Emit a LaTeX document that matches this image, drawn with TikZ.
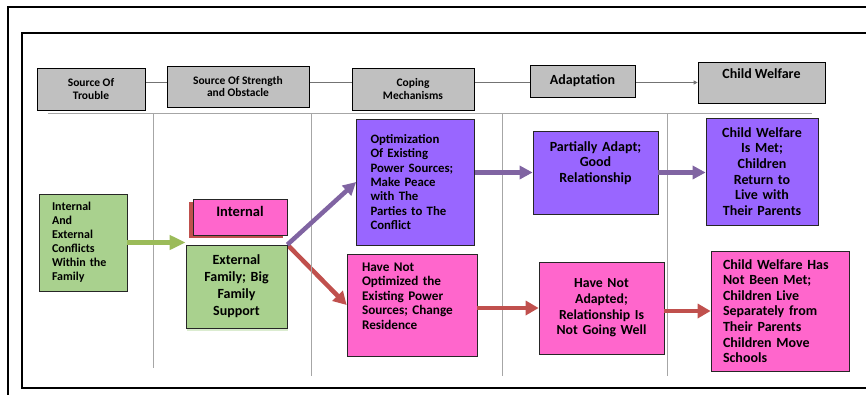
\documentclass[tikz,border=0pt]{standalone}
\usepackage{fontspec}
\setmainfont{Carlito}
\usepackage{xcolor}
\definecolor{cHead}{HTML}{C0C0C0}
\definecolor{cGreen}{HTML}{A9D18E}
\definecolor{cPink}{HTML}{FF66CC}
\definecolor{cPurple}{HTML}{9966FF}
\definecolor{cArrPurple}{HTML}{8064A2}
\definecolor{cArrRed}{HTML}{C0504D}
\definecolor{cArrGreen}{HTML}{9BBB59}
\definecolor{cRule}{HTML}{A6A6A6}
\usepackage{tikz}
\usetikzlibrary{arrows.meta,backgrounds,shadows}
\tikzset{
  node-head/.style={draw=black,fill=cHead,line width=0.7pt,align=center,
    inner sep=0pt,font=\bfseries\fontsize{11.5}{12.5}\selectfont},
  node-box/.style={draw=black!85,line width=0.7pt,inner ysep=0pt,
    font=\bfseries\fontsize{14}{15.6}\selectfont},
  node-green/.style={fill=cGreen},
  node-pink/.style={fill=cPink},
  node-purple/.style={fill=cPurple},
  arrow-purple/.style={-{Triangle[length=13pt,width=13pt]},line width=4.5pt,draw=cArrPurple},
  arrow-red/.style={-{Triangle[length=13pt,width=14pt]},line width=4.5pt,draw=cArrRed},
  arrow-green/.style={-{Triangle[length=16pt,width=14pt]},line width=5pt,draw=cArrGreen},
  head-line/.style={-{Triangle[length=4pt,width=4pt]},line width=1pt,draw=black!55},
  col-rule/.style={line width=1pt,draw=cRule},
}

\begin{document}
\begin{tikzpicture}[x=1pt,y=-1pt]
  \useasboundingbox (0,0) rectangle (866,394);
  \clip (0,0) rectangle (866,394);
  % frames
  \draw[line width=1.3pt] (8,7) rectangle (880,410);
  \draw[line width=1.3pt] (22,33) rectangle (880,388);

  % header row
  \node[node-head,minimum width=108pt,minimum height=42pt] (trouble) at (91,89) {Source Of\\Trouble};
  \node[node-head,minimum width=142pt,minimum height=41pt] (strength) at (238,86.5) {Source Of Strength\\and Obstacle};
  \node[node-head,minimum width=122pt,minimum height=42pt] (coping) at (413,89) {Coping\\Mechanisms};
  \node[node-head,minimum width=105pt,minimum height=32pt,font=\bfseries\fontsize{14}{15}\selectfont] (adapt) at (582.5,81) {Adaptation};
  \node[node-head,minimum width=127pt,minimum height=41pt,text depth=17pt,font=\bfseries\fontsize{14}{15}\selectfont] (welfare) at (761.5,82.5) {Child Welfare};
  \begin{scope}[on background layer]
    \draw[head-line] (trouble.east |- welfare.west) -- (welfare.west);
  \end{scope}
  \draw[col-rule] (48,113) -- (812,113);
  \draw[col-rule] (153,113) -- (153,368);
  \draw[col-rule] (311,113) -- (311,376);
  \draw[col-rule] (502,113) -- (502,376);
  \draw[col-rule] (667,113) -- (667,376);

  % source of trouble
  \node[node-box,node-green,align=left,text width=62pt,inner xsep=13pt,minimum height=97pt,
    font=\bfseries\fontsize{12}{14}\selectfont] (conflict) at (83,242.5)
    {Internal\\And\\External\\Conflicts\\Within the\\Family};

  % source of strength and obstacle
  \node[node-box,node-pink,align=center,text width=86pt,inner xsep=4pt,minimum height=36pt,
    font=\bfseries\fontsize{14.5}{16}\selectfont,
    drop shadow={shadow xshift=-4pt,shadow yshift=-3pt,fill=cArrRed,opacity=1}] (internal) at (240,217) {Internal\\[-4pt]~};
  \node[node-box,node-green,align=center,text width=93pt,inner xsep=4pt,minimum height=83pt,
    font=\bfseries\fontsize{14}{17}\selectfont,
    drop shadow={shadow xshift=1pt,shadow yshift=-3pt,fill=cGreen!70,opacity=.6}] (extfam) at (236.5,286.5)
    {External\\Family; Big\\Family\\Support};

  % coping mechanisms
  \node[node-box,node-purple,align=left,text width=90pt,inner xsep=14pt,minimum height=126pt,
    font=\bfseries\fontsize{12.8}{14.4}\selectfont] (opt) at (415.5,182)
    {Optimization\\Of Existing\\Power Sources;\\Make Peace\\with The\\Parties to The\\Conflict};
  \node[node-box,node-pink,align=left,text width=100pt,inner xsep=15pt,minimum height=102pt,
    font=\bfseries\fontsize{13.2}{14.5}\selectfont] (notopt) at (412,305)
    {Have Not\\Optimized the\\Existing Power\\Sources; Change\\Residence\\[4pt]~};

  % adaptation
  \node[node-box,node-purple,align=center,text width=117pt,inner xsep=4pt,minimum height=83pt] (partial) at (595.5,172.5)
    {Partially Adapt;\\Good\\Relationship\\[6pt]~};
  \node[node-box,node-pink,align=center,text width=117pt,inner xsep=4pt,minimum height=92pt,
    font=\bfseries\fontsize{13.8}{15.6}\selectfont] (notadapt) at (601.5,308)
    {Have Not\\Adapted;\\Relationship Is\\Not Going Well};

  % child welfare
  \node[node-box,node-purple,align=center,text width=104pt,inner xsep=4pt,minimum height=107pt] (met) at (762,171.5)
    {Child Welfare\\Is Met;\\Children\\Return to\\Live with\\Their Parents};
  \node[node-box,node-pink,align=left,text width=114pt,inner xsep=12pt,minimum height=120pt] (notmet) at (780,311)
    {Child Welfare Has\\Not Been Met;\\Children Live\\Separately from\\Their Parents\\Children Move\\Schools};

  \draw[arrow-green] (conflict.east) -- (conflict.east -| extfam.west);
  \draw[arrow-purple] (extfam.north east) -- (opt.west);
  \begin{scope}[on background layer]
    \draw[arrow-red] (extfam.north east) -- (notopt.west);
  \end{scope}
  \draw[arrow-purple] (opt.east |- partial.west) -- (partial.west);
  \draw[arrow-purple] (partial.east) -- (partial.east -| met.west);
  \draw[arrow-red] (notadapt.west -| notopt.east) -- (notadapt.west);
  \draw[arrow-red] ([yshift=-3pt]notadapt.east) -- ([yshift=-3pt]notadapt.east -| notmet.west);
\end{tikzpicture}
\end{document}
